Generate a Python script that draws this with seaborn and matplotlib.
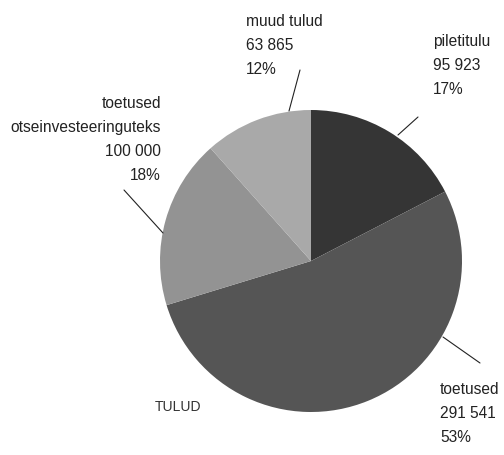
import matplotlib
matplotlib.use("Agg")
import matplotlib.pyplot as plt
import seaborn as sns

sns.set_style("white")
plt.rcParams['font.family'] = ['Liberation Sans', 'DejaVu Sans']

categories = ["piletitulu", "toetused", "toetused\notseinvesteeringuteks", "muud tulud"]
values = [95923, 291541, 100000, 63865]
colors = ["#353535", "#555555", "#939393", "#a9a9a9"]
title = "TULUD"

W, H = 504, 455
fig = plt.figure(figsize=(W / 100, H / 100), dpi=100)
ax = fig.add_axes([0, 0, 1, 1])


def py(y):
    # pixel y measured from top -> axis y
    return H - y


ax.pie(values, colors=colors, startangle=90, counterclock=False,
       center=(311, py(261)), radius=151, frame=True,
       wedgeprops=dict(linewidth=0))
ax.set_xlim(0, W)
ax.set_ylim(0, H)
ax.set_aspect("equal")
ax.axis("off")

total = sum(values)


def fmt(v):
    return f"{v:,}".replace(",", " ")


labels = [f"{c}\n{fmt(v)}\n{round(v / total * 100):.0f}%" for c, v in zip(categories, values)]

# label placement: (x, y_top, ha), leader line endpoints
layout = [
    (433, 34, "left", ((418, 117), (398, 135))),
    (440, 382, "left", ((480, 363), (443, 337))),
    (161, 96, "right", ((124, 190), (163, 233))),
    (246, 14, "left", ((300, 70), (289, 111))),
]

for lab, (x, y, ha, line) in zip(labels, layout):
    ax.text(x, py(y), lab, ha=ha, va="top", fontsize=11.2, color="#222222",
            linespacing=1.76, multialignment=ha)
    (x0, y0), (x1, y1) = line
    ax.plot([x0, x1], [py(y0), py(y1)], color="#222222", linewidth=0.8)

ax.text(155, py(407), title, ha="left", va="center", fontsize=10,
        color="#333333")

fig.savefig("out.png", dpi=100)
